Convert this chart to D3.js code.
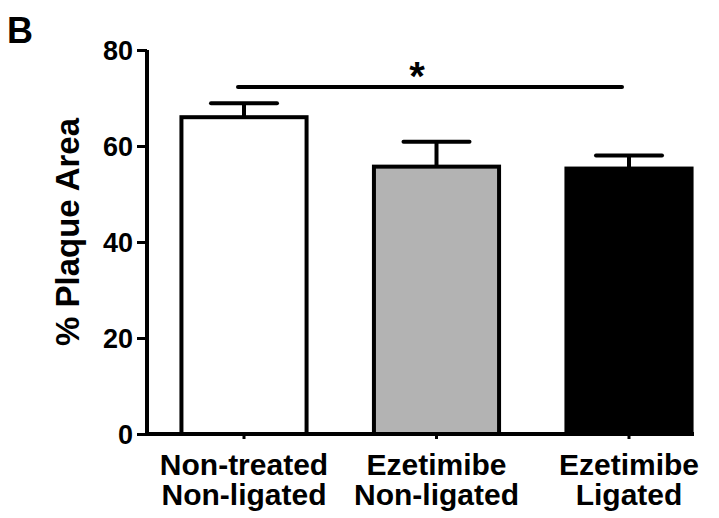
<!DOCTYPE html>
<html>
<head>
<meta charset="utf-8">
<script src="https://cdn.jsdelivr.net/npm/d3@7"></script>
<style>
  body { margin: 0; background: #fff; }
  svg { display: block; }
  text { font-family: "Liberation Sans", Arial, sans-serif; font-weight: bold; fill: #000; }
</style>
</head>
<body>
<div id="chart"></div>
<script>
// data
var groups = ["Non-treated|Non-ligated", "Ezetimibe|Non-ligated", "Ezetimibe|Ligated"];
var means = [66.0, 55.7, 55.3];
var sems = [2.9, 5.2, 2.7];
var fills = ["#ffffff", "#b3b3b3", "#000000"];
var yTicks = [0, 20, 40, 60, 80];

var svgWidth = 719, svgHeight = 518;

var svg = d3.select("#chart")
    .append("svg")
    .attr("width", svgWidth)
    .attr("height", svgHeight);

// scales
var xScale = d3.scaleBand()
    .domain(groups)
    .range([147.75, 725.25])
    .paddingInner(0.35)
    .paddingOuter(0.175);

var yScale = d3.scaleLinear()
    .domain([0, 80])
    .range([434, 50]);

// bars
svg.selectAll("rect.bar")
    .data(groups)
    .enter()
    .append("rect")
    .attr("class", "bar")
    .attr("x", d => xScale(d))
    .attr("y", (d, i) => yScale(means[i]))
    .attr("width", xScale.bandwidth())
    .attr("height", (d, i) => yScale(0) - yScale(means[i]))
    .attr("fill", (d, i) => fills[i])
    .attr("stroke", "#000")
    .attr("stroke-width", 4);

// error bars (upper only)
var capW = 66;
var err = svg.selectAll("g.err")
    .data(groups)
    .enter()
    .append("g")
    .attr("class", "err")
    .attr("stroke", "#000")
    .attr("stroke-width", 4);

err.append("line")
    .attr("x1", d => xScale(d) + xScale.bandwidth() / 2)
    .attr("x2", d => xScale(d) + xScale.bandwidth() / 2)
    .attr("y1", (d, i) => yScale(means[i]))
    .attr("y2", (d, i) => yScale(means[i] + sems[i]));

err.append("line")
    .attr("stroke-linecap", "round")
    .attr("x1", d => xScale(d) + xScale.bandwidth() / 2 - capW / 2)
    .attr("x2", d => xScale(d) + xScale.bandwidth() / 2 + capW / 2)
    .attr("y1", (d, i) => yScale(means[i] + sems[i]))
    .attr("y2", (d, i) => yScale(means[i] + sems[i]));

// y axis
var yAxis = d3.axisLeft(yScale)
    .tickValues(yTicks)
    .tickSizeOuter(0)
    .tickSize(10)
    .tickPadding(4);

var yG = svg.append("g")
    .attr("transform", "translate(147,0)")
    .call(yAxis);
yG.select(".domain").attr("stroke-width", 4).attr("d", "M0,50V436");
yG.selectAll(".tick line").attr("stroke-width", 3);
yG.selectAll(".tick text")
    .attr("font-size", 27)
    .attr("dy", "0.36em");

// x axis
var xAxis = d3.axisBottom(xScale)
    .tickSize(5)
    .tickSizeOuter(0)
    .tickFormat("");

var xG = svg.append("g")
    .attr("transform", "translate(0,434)")
    .call(xAxis);
xG.select(".domain").attr("stroke-width", 4).attr("d", "M145,0H694");
xG.selectAll(".tick line").attr("stroke-width", 3);

// two-line category labels
svg.selectAll("text.xlab")
    .data(groups)
    .enter()
    .append("text")
    .attr("class", "xlab")
    .attr("text-anchor", "middle")
    .attr("font-size", 30)
    .each(function(d) {
        var parts = d.split("|");
        var cx = xScale(d) + xScale.bandwidth() / 2;
        d3.select(this).selectAll("tspan")
            .data(parts)
            .enter()
            .append("tspan")
            .attr("x", cx)
            .attr("y", (p, j) => 475 + j * 30)
            .text(p => p);
    });

// y axis title
svg.append("text")
    .attr("text-anchor", "middle")
    .attr("font-size", 33)
    .attr("transform", "translate(79,232)rotate(-90)")
    .text("% Plaque Area");

// panel letter
svg.append("text")
    .attr("x", 7)
    .attr("y", 43)
    .attr("font-size", 36)
    .text("B");

// significance bracket
svg.append("line")
    .attr("x1", 238)
    .attr("x2", 622)
    .attr("y1", 87)
    .attr("y2", 87)
    .attr("stroke", "#000")
    .attr("stroke-width", 4)
    .attr("stroke-linecap", "round");

svg.append("text")
    .attr("x", 417)
    .attr("y", 90)
    .attr("text-anchor", "middle")
    .attr("font-size", 40)
    .text("*");
</script>
</body>
</html>
